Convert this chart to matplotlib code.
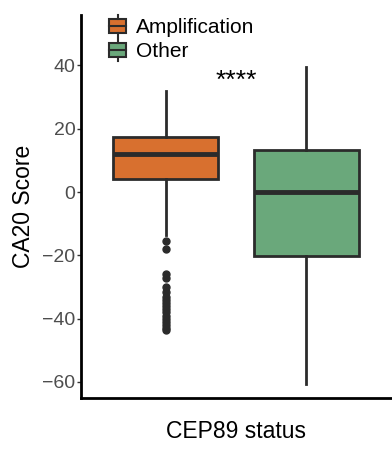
import matplotlib
matplotlib.use("Agg")
import matplotlib.pyplot as plt
from matplotlib.legend_handler import HandlerBase
from matplotlib.patches import Rectangle
from matplotlib.lines import Line2D

plt.rcParams['font.family'] = ['Liberation Sans', 'DejaVu Sans']

# data
groups = ['Amplification', 'Other']
colors = ['#D8702F', '#6AA87B']
medians = [12, 0]
q1 = [4.1, -20.3]
q3 = [17.4, 13.3]
whislo = [-13.6, -60.5]
whishi = [32, 39.5]
fliers_amp = [-15.5, -18, -26, -27, -30, -31.5, -33, -34, -35, -36, -37,
              -38, -39, -40, -41, -42, -43, -43.5]
fliers_other = []
yticks = [-60, -40, -20, 0, 20, 40]

edge = '#2b2b2b'

stats = []
for i, g in enumerate(groups):
    stats.append({'label': g, 'med': medians[i], 'q1': q1[i], 'q3': q3[i],
                  'whislo': whislo[i], 'whishi': whishi[i],
                  'fliers': fliers_amp if i == 0 else fliers_other})

fig = plt.figure(figsize=(3.92, 4.5), dpi=100)
ax = fig.add_axes([0.207, 0.116, 0.79, 0.851])

bp = ax.bxp(stats, positions=[1, 2], widths=0.75, patch_artist=True,
            showcaps=False,
            boxprops=dict(edgecolor=edge, linewidth=2),
            medianprops=dict(color=edge, linewidth=3.5),
            whiskerprops=dict(color=edge, linewidth=2),
            flierprops=dict(marker='o', markerfacecolor=edge, markeredgecolor=edge,
                            markersize=5))
for patch, c in zip(bp['boxes'], colors):
    patch.set_facecolor(c)

ax.text(1.5, 35, '****', ha='center', va='center', fontsize=19, color='black')

ax.set_xlim(0.4, 2.6)
ax.set_ylim(-65, 56)
ax.set_yticks(yticks)
ax.set_yticklabels([str(t).replace('-', '\u2212') for t in yticks])
ax.set_xticks([])
ax.tick_params(axis='y', length=3, width=1, color='#333333', labelsize=14,
               labelcolor='#4d4d4d', pad=1)
for s in ['top', 'right']:
    ax.spines[s].set_visible(False)
for s in ['left', 'bottom']:
    ax.spines[s].set_linewidth(2)
ax.set_ylabel('CA20 Score', fontsize=16.5, labelpad=5)
ax.set_xlabel('CEP89 status', fontsize=16.5, labelpad=16)


# legend key that looks like a small boxplot
class BoxHandler(HandlerBase):
    def create_artists(self, legend, orig_handle, xdescent, ydescent,
                       width, height, fontsize, trans):
        cx = width / 2 - xdescent
        rect = Rectangle((-xdescent + 1, -ydescent), width - 2, height,
                         facecolor=orig_handle.get_facecolor(),
                         edgecolor=edge, linewidth=1.5, transform=trans)
        med = Line2D([-xdescent + 1, width - xdescent - 1],
                     [height / 2 - ydescent] * 2, color=edge, lw=1.5,
                     transform=trans)
        w1 = Line2D([cx, cx], [height - ydescent, height - ydescent + 3],
                    color=edge, lw=1.5, transform=trans)
        w2 = Line2D([cx, cx], [-ydescent - 3, -ydescent],
                    color=edge, lw=1.5, transform=trans)
        return [rect, med, w1, w2]


handles = [Rectangle((0, 0), 1, 1, facecolor=c) for c in colors]
ax.legend(handles, groups, handler_map={Rectangle: BoxHandler()},
          loc='upper left', bbox_to_anchor=(0.06, 1.013), frameon=False,
          fontsize=15, handlelength=0.95, handleheight=0.65, handletextpad=0.4,
          labelspacing=0.25, borderaxespad=0)

fig.savefig('out.png', dpi=100)
